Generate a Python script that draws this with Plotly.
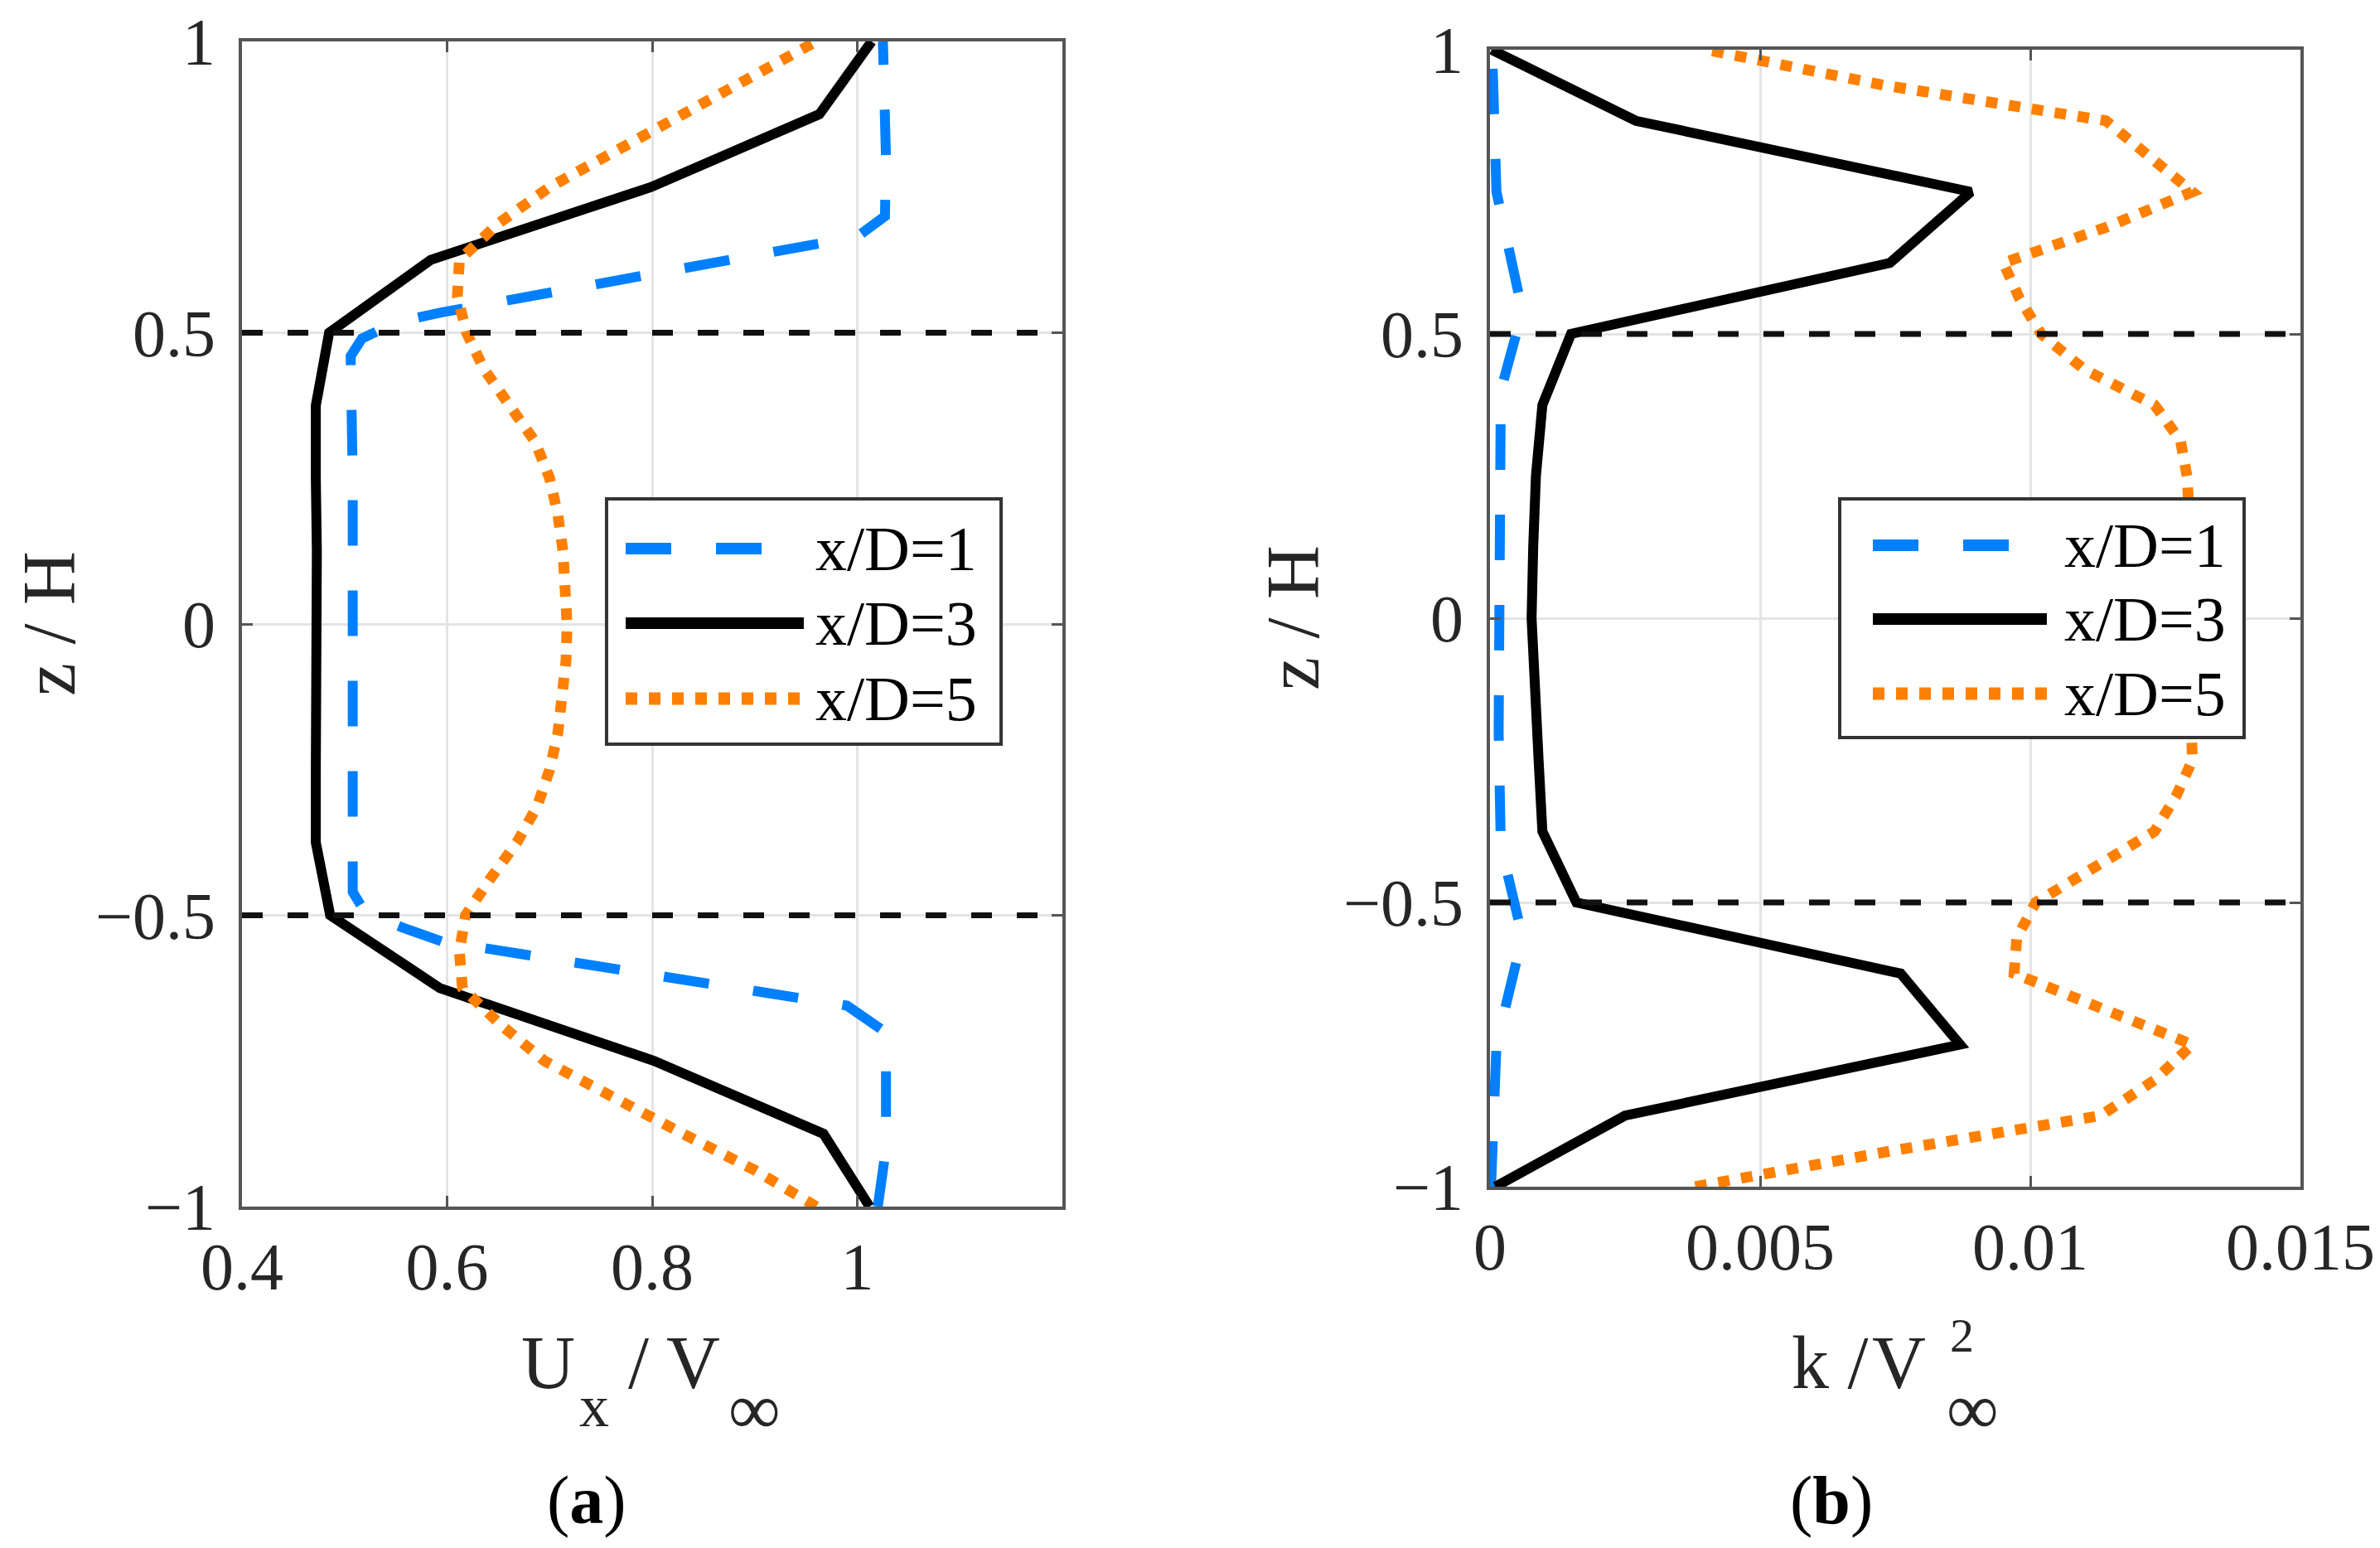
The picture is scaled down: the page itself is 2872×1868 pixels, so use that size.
import plotly.graph_objects as go

# ---------------- data ----------------
# (a) streamwise velocity profiles U_x / V_inf
z_u_xd1 = [-1.0, -0.9, -0.75, -0.7, -0.655, -0.545, -0.52, -0.495, -0.46, -0.25, 0.0,
           0.25, 0.46, 0.49, 0.518, 0.535, 0.665, 0.70, 0.80, 1.0]
u_xd1 = [1.02, 1.028, 1.028, 1.027, 0.99, 0.595, 0.555, 0.52, 0.508, 0.508, 0.51,
         0.508, 0.506, 0.517, 0.55, 0.595, 1.0, 1.027, 1.028, 1.025]

z_u_xd3 = [-1.0, -0.875, -0.75, -0.625, -0.5, -0.375, -0.25, -0.125, 0.0,
           0.125, 0.25, 0.375, 0.5, 0.625, 0.75, 0.875, 1.0]
u_xd3 = [1.012, 0.967, 0.802, 0.593, 0.486, 0.472, 0.472, 0.473, 0.474,
         0.473, 0.472, 0.472, 0.485, 0.584, 0.799, 0.963, 1.014]

z_u_xd5 = [-1.0, -0.9375, -0.875, -0.8125, -0.75, -0.6875, -0.625, -0.5625, -0.5,
           -0.4375, -0.375, -0.3125, -0.25, -0.1875, -0.125, -0.0625, 0.0,
           0.0625, 0.125, 0.1875, 0.25, 0.3125, 0.375, 0.4375, 0.5,
           0.5625, 0.625, 0.6875, 0.75, 0.8125, 0.875, 0.9375, 1.0]
u_xd5 = [0.96, 0.90, 0.83, 0.762, 0.695, 0.652, 0.615, 0.612, 0.618,
         0.642, 0.668, 0.688, 0.70, 0.708, 0.713, 0.716, 0.717,
         0.716, 0.713, 0.708, 0.70, 0.686, 0.662, 0.636, 0.619,
         0.61, 0.612, 0.65, 0.70, 0.765, 0.832, 0.90, 0.96]

# (b) turbulent kinetic energy k / V_inf^2
z_k_xd1 = [-1.0, -0.875, -0.75, -0.56, -0.4, -0.2, 0.0, 0.2, 0.4, 0.54, 0.75, 0.875, 1.0]
k_xd1 = [0.00002, 0.00006, 0.00012, 0.0006, 0.0002, 0.00016, 0.00016, 0.00016,
         0.0002, 0.0006, 0.00012, 0.00008, 0.00004]

z_k_xd3 = z_u_xd3
k_xd3 = [0.0001, 0.0025, 0.0087, 0.0076, 0.0016, 0.00097, 0.0009, 0.00082, 0.00077,
         0.0008, 0.00085, 0.00097, 0.0015, 0.0074, 0.0089, 0.0027, 0.00003]

z_k_xd5 = z_u_xd5
k_xd5 = [0.0038, 0.0074, 0.0113, 0.0123, 0.0130, 0.0114, 0.0097, 0.00975, 0.0101,
         0.0112, 0.0123, 0.0127, 0.0130, 0.01298, 0.01297, 0.01296, 0.01295,
         0.01296, 0.01298, 0.01296, 0.0129, 0.01278, 0.0123, 0.0110, 0.0102,
         0.0098, 0.0095, 0.0114, 0.0130, 0.0122, 0.0114, 0.0073, 0.0040]

series_names = ["x/D=1", "x/D=3", "x/D=5"]
ref_levels = [-0.5, 0.5]

y_tickvals = [-1, -0.5, 0, 0.5, 1]
y_ticktext = ["\u22121", "\u22120.5", "0", "0.5", "1"]
xa_tickvals = [0.4, 0.6, 0.8, 1.0]
xa_ticktext = ["0.4", "0.6", "0.8", "1"]
xb_tickvals = [0, 0.005, 0.01, 0.015]
xb_ticktext = ["0", "0.005", "0.01", "0.015"]

# ---------------- styling ----------------
W, H = 2872, 1868          # browser window
OFF = 8                    # default <body> margin of the written page
FW, FH = W - OFF, H - OFF  # figure fills the window up to its right/bottom edge
FONT = "Liberation Serif"
TXT = "#262626"
BLUE, BLACK, ORANGE = "#0080FF", "#000000", "#FF8000"
styles = [
    dict(color=BLUE, width=12, dash="55px,54px"),
    dict(color=BLACK, width=12, dash="solid"),
    dict(color=ORANGE, width=13, dash="14px,14px"),
]


def px(X):
    return (X - OFF) / FW


def py(Y):
    return 1 - (Y - OFF) / FH


fig = go.Figure()

panels = [
    ("x", "y", [(u_xd1, z_u_xd1), (u_xd3, z_u_xd3), (u_xd5, z_u_xd5)]),
    ("x2", "y2", [(k_xd1, z_k_xd1), (k_xd3, z_k_xd3), (k_xd5, z_k_xd5)]),
]
for xa, ya, data in panels:
    for (xv, zv), name, st in zip(data, series_names, styles):
        fig.add_trace(go.Scatter(x=xv, y=zv, mode="lines", name=name,
                                 line=st, xaxis=xa, yaxis=ya, showlegend=False))

axis_common = dict(
    showline=True, linecolor="#555555", linewidth=4, mirror="ticks",
    ticks="inside", ticklen=13, tickwidth=3, tickcolor="#555555",
    showgrid=True, gridcolor="#e4e4e4", gridwidth=3, zeroline=False,
    automargin=False, ticklabeloverflow="allow",
    tickfont=dict(family=FONT, size=80, color=TXT),
)

fig.update_layout(
    width=FW, height=FH,
    margin=dict(l=0, r=0, t=0, b=0, autoexpand=False),
    paper_bgcolor="white", plot_bgcolor="white",
    showlegend=False,
    font=dict(family=FONT, color=TXT),
    xaxis=dict(domain=[px(292), px(1282)], anchor="y", range=[0.4, 1.2],
               tickmode="array", tickvals=xa_tickvals, ticktext=xa_ticktext,
               ticklabelstandoff=0, **axis_common),
    yaxis=dict(domain=[py(1456), py(50)], anchor="x", range=[-1, 1],
               tickmode="array", tickvals=y_tickvals, ticktext=y_ticktext,
               ticklabelstandoff=12, **axis_common),
    xaxis2=dict(domain=[px(1798), px(2776)], anchor="y2", range=[0, 0.015],
                tickmode="array", tickvals=xb_tickvals, ticktext=xb_ticktext,
                ticklabelstandoff=0, **axis_common),
    yaxis2=dict(domain=[py(1432), py(60)], anchor="x2", range=[-1, 1],
                tickmode="array", tickvals=y_tickvals, ticktext=y_ticktext,
                ticklabelstandoff=12, **axis_common),
)

shapes = []
annotations = []

# horizontal dashed reference lines at z/H = +-0.5
for xa, ya in [("x", "y"), ("x2", "y2")]:
    for lv in ref_levels:
        shapes.append(dict(type="line", xref=f"{xa} domain", yref=ya,
                           x0=0, x1=1, y0=lv, y1=lv, layer="above",
                           line=dict(color="#111111", width=7, dash="25px,30px")))

# custom legends (box, sample lines, labels) in axis-domain coordinates
legend_specs = [
    dict(xa="x", ya="y", box=(0.4444, 0.9253, 0.3969, 0.6074),
         line_x=(0.4677, 0.6848), rows=(0.5647, 0.5007, 0.4360), text_x=0.697),
    dict(xa="x2", ya="y2", box=(0.4315, 0.9305, 0.3950, 0.6050),
         line_x=(0.4724, 0.6871), rows=(0.5641, 0.4993, 0.4337), text_x=0.7066),
]
for spec in legend_specs:
    xr, yr = f"{spec['xa']} domain", f"{spec['ya']} domain"
    bx0, bx1, by0, by1 = spec["box"]
    shapes.append(dict(type="rect", xref=xr, yref=yr, x0=bx0, x1=bx1, y0=by0, y1=by1,
                       layer="above", fillcolor="white",
                       line=dict(color="#333333", width=4)))
    for name, st, ry in zip(series_names, styles, spec["rows"]):
        shapes.append(dict(type="line", xref=xr, yref=yr,
                           x0=spec["line_x"][0], x1=spec["line_x"][1], y0=ry, y1=ry,
                           layer="above",
                           line=dict(color=st["color"], width=st["width"] + 2,
                                     dash=st["dash"])))
        annotations.append(dict(text=name, xref=xr, yref=yr, x=spec["text_x"], y=ry,
                                xanchor="left", yanchor="middle", showarrow=False,
                                font=dict(family=FONT, size=76, color="black")))


def text_base(txt, X_left, baseline, size, color=TXT):
    # place text so that its baseline sits at pixel row `baseline`
    center = baseline - 0.3375 * size
    annotations.append(dict(text=txt, xref="paper", yref="paper",
                            x=px(X_left), y=py(center), xanchor="left", yanchor="middle",
                            showarrow=False, font=dict(family=FONT, size=size, color=color)))


# x-axis titles
text_base("U", 627, 1675, 90)
text_base("x", 697, 1721, 72)
text_base("/ V", 756, 1675, 90)
text_base("\u221e", 877, 1730, 88)

text_base("k /", 2160, 1675, 90)
text_base("V", 2257, 1675, 90)
text_base("2", 2351, 1631, 58)
text_base("\u221e", 2347, 1730, 88)

# y-axis titles
for Xc, Yc in [(59, 752), (1561, 746)]:
    annotations.append(dict(text="z / H", xref="paper", yref="paper", x=px(Xc), y=py(Yc),
                            xanchor="center", yanchor="middle", textangle=-90,
                            showarrow=False, font=dict(family=FONT, size=90, color=TXT)))

# panel labels
for lab, Xc in [("a", 708), ("b", 2210)]:
    annotations.append(dict(text=f"(<b>{lab}</b>)", xref="paper", yref="paper",
                            x=px(Xc), y=py(1810), xanchor="center", yanchor="middle",
                            showarrow=False, font=dict(family=FONT, size=82, color="black")))

fig.update_layout(shapes=shapes, annotations=annotations)
fig.write_html("out.html")
